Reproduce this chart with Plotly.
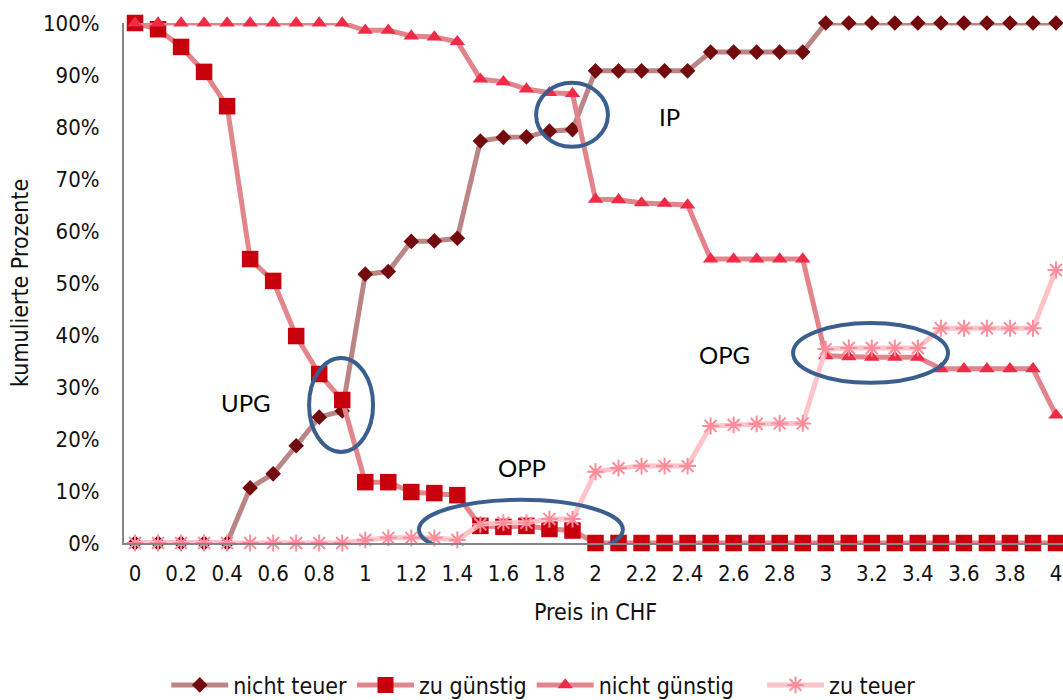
import plotly.graph_objects as go

# ---- data ----
price = [0.0, 0.1, 0.2, 0.3, 0.4, 0.5, 0.6, 0.7, 0.8, 0.9,
         1.0, 1.1, 1.2, 1.3, 1.4, 1.5, 1.6, 1.7, 1.8, 1.9,
         2.0, 2.1, 2.2, 2.3, 2.4, 2.5, 2.6, 2.7, 2.8, 2.9,
         3.0, 3.1, 3.2, 3.3, 3.4, 3.5, 3.6, 3.7, 3.8, 3.9, 4.0]

nicht_teuer = [0, 0, 0, 0, 0, 10.6, 13.3, 18.7, 24.2, 25.4,
               51.7, 52.2, 58.0, 58.1, 58.6, 77.3, 78.0, 78.1, 79.2, 79.5,
               90.8, 90.8, 90.8, 90.8, 90.8, 94.4, 94.4, 94.4, 94.4, 94.4,
               100, 100, 100, 100, 100, 100, 100, 100, 100, 100, 100]

zu_guenstig = [100, 98.8, 95.4, 90.6, 84.0, 54.6, 50.4, 39.8, 32.5, 27.5,
               11.7, 11.7, 9.8, 9.6, 9.2, 3.3, 3.1, 3.3, 2.7, 2.4,
               0, 0, 0, 0, 0, 0, 0, 0, 0, 0,
               0, 0, 0, 0, 0, 0, 0, 0, 0, 0, 0]

nicht_guenstig = [100, 100, 100, 100, 100, 100, 100, 100, 100, 100,
                  98.6, 98.6, 97.5, 97.3, 96.4, 89.2, 88.7, 87.3, 86.6, 86.4,
                  66.1, 66.0, 65.4, 65.3, 65.0, 54.6, 54.6, 54.6, 54.6, 54.6,
                  36.0, 35.8, 35.7, 35.7, 35.7, 33.5, 33.5, 33.5, 33.5, 33.5, 24.6]

zu_teuer = [0, 0, 0, 0, 0, 0, 0, 0, 0, 0,
            0.6, 1.0, 1.0, 1.0, 0.6, 3.6, 3.9, 3.9, 4.6, 4.6,
            13.7, 14.4, 14.8, 14.8, 14.8, 22.5, 22.7, 22.9, 23.0, 23.0,
            37.3, 37.5, 37.5, 37.5, 37.5, 41.3, 41.3, 41.3, 41.3, 41.3, 52.5]

x_tickvals = [0, 0.2, 0.4, 0.6, 0.8, 1, 1.2, 1.4, 1.6, 1.8, 2,
              2.2, 2.4, 2.6, 2.8, 3, 3.2, 3.4, 3.6, 3.8, 4]
x_ticktext = ["0", "0.2", "0.4", "0.6", "0.8", "1", "1.2", "1.4", "1.6", "1.8", "2",
              "2.2", "2.4", "2.6", "2.8", "3", "3.2", "3.4", "3.6", "3.8", "4"]
y_tickvals = [0, 10, 20, 30, 40, 50, 60, 70, 80, 90, 100]
y_ticktext = ["0%", "10%", "20%", "30%", "40%", "50%", "60%", "70%", "80%", "90%", "100%"]

x_title = "Preis in CHF"
y_title = "kumulierte Prozente"

# region labels and their highlight ellipses (data coordinates)
labels = ["IP", "OPG", "UPG", "OPP"]
label_x = [2.32, 2.56, 0.48, 1.68]
label_y = [82.1, 36.2, 27.1, 14.6]
ell_x0 = [1.742, 2.858, 0.756, 1.233]
ell_x1 = [2.054, 3.531, 1.034, 2.119]
ell_y0 = [76.2, 30.8, 17.5, -3.1]
ell_y1 = [88.5, 42.3, 35.6, 8.3]

FONT = "Liberation Sans Narrow, Arial Narrow, DejaVu Sans Condensed, sans-serif"

series = [
    ("nicht teuer", nicht_teuer, "#BC8585", "#720A0E", "diamond", 12, "legend"),
    ("zu günstig", zu_guenstig, "#E3868C", "#C8000E", "square", 16.5, "legend"),
    ("nicht günstig", nicht_guenstig, "#E3848C", "#EF2B47", "triangle-up", 13.5, "legend"),
    ("zu teuer", zu_teuer, "#FFC3CA", "#FF8C9B", "asterisk-open", 14, "legend2"),
]

fig = go.Figure()
for name, vals, lc, mc, sym, size, lg in series:
    if sym == "asterisk-open":
        marker = dict(symbol=sym, size=size, color=mc, line=dict(color=mc, width=2))
    else:
        marker = dict(symbol=sym, size=size, color=mc, line=dict(width=0))
    fig.add_trace(go.Scatter(
        x=price, y=vals, name=name, mode="lines+markers",
        line=dict(color=lc, width=5),
        marker=marker, cliponaxis=False, legend=lg,
    ))

shapes = []
for a, b, c, d in zip(ell_x0, ell_x1, ell_y0, ell_y1):
    shapes.append(dict(type="circle", xref="x", yref="y", x0=a, x1=b, y0=c, y1=d,
                       line=dict(color="#3A5F8E", width=4), fillcolor="rgba(0,0,0,0)"))

annotations = []
for t, ax, ay in zip(labels, label_x, label_y):
    annotations.append(dict(text=t, x=ax, y=ay, xref="x", yref="y", showarrow=False,
                            font=dict(family="Lato, Open Sans, sans-serif", size=24, color="#000000")))
annotations.append(dict(text=x_title, x=0.5016, y=-0.1327, xref="paper", yref="paper",
                        showarrow=False, xanchor="center", yanchor="middle",
                        font=dict(family=FONT, size=23, color="#111111")))
annotations.append(dict(text=y_title, x=-0.1108, y=0.5, xref="paper", yref="paper",
                        showarrow=False, xanchor="center", yanchor="middle", textangle=-90,
                        font=dict(family=FONT, size=23, color="#111111")))

legend_common = dict(orientation="h", y=-0.273, yanchor="middle", xanchor="left",
                     font=dict(family=FONT, size=23, color="#111111"),
                     itemwidth=57, traceorder="normal", bgcolor="rgba(0,0,0,0)")

fig.update_layout(
    width=1063, height=700,
    margin=dict(l=124, r=0, t=23, b=157, autoexpand=False),
    paper_bgcolor="white", plot_bgcolor="white",
    font=dict(family=FONT, size=22, color="#111111"),
    showlegend=True,
    legend=dict(x=0.045, **legend_common),
    legend2=dict(x=0.6795, **legend_common),
    shapes=shapes, annotations=annotations,
)
fig.update_xaxes(range=[-0.0478, 4.0304], tickmode="array", tickvals=x_tickvals, ticktext=x_ticktext,
                 showgrid=False, zeroline=False, showline=True, linecolor="#868686", linewidth=2,
                 ticks="", ticklabelstandoff=10)
fig.update_yaxes(range=[0, 100], tickmode="array", tickvals=y_tickvals, ticktext=y_ticktext,
                 showgrid=False, zeroline=False, showline=True, linecolor="#868686", linewidth=2,
                 ticks="", ticklabelstandoff=18)

fig.write_html("out.html", config={"displayModeBar": False},
               post_script="document.body.style.margin='0px';document.body.style.overflow='hidden';")
